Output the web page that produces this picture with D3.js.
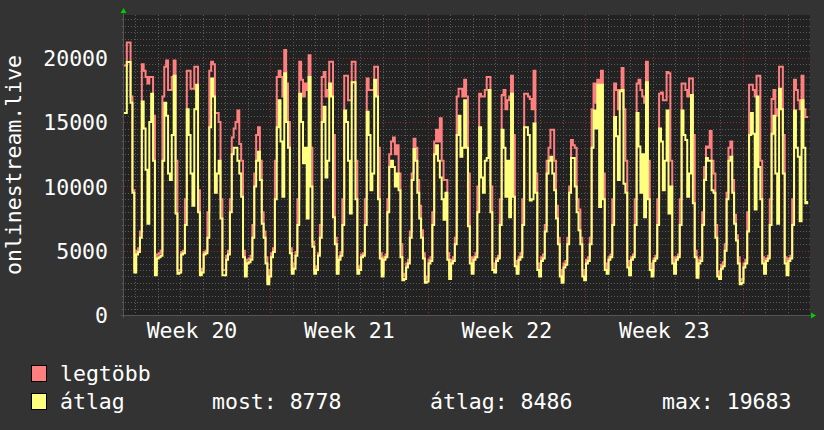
<!DOCTYPE html>
<html>
<head>
<meta charset="utf-8">
<script src="https://cdn.jsdelivr.net/npm/d3@7"></script>
<style>
  body { margin: 0; background: #333333; }
  svg { display: block; }
  text { font-family: "DejaVu Sans Mono", monospace; fill: #ffffff; }
</style>
</head>
<body>
<svg id="chart" width="824" height="430"></svg>
<script>
// one sample every 2 hours, first sample at noon before the first midnight
const stepHours = 2;

// legtöbb (max) per day, hours 0,2,...,22 (first row: 12..22 only)
const legtobbDays = [
  [19400, 19400, 21200, 21200, 17000, 9700],
  [3600, 5000, 5200, 6500, 19500, 19000, 18500, 18000, 18500, 18500, 15500, 3400],
  [4700, 4800, 5000, 17000, 19300, 19800, 17500, 17500, 18500, 19800, 12000, 3500],
  [3500, 4900, 5000, 9000, 19000, 19000, 17600, 17600, 19300, 19300, 9700, 3400],
  [3600, 4900, 5000, 8000, 19000, 19700, 19500, 15700, 15700, 15000, 9000, 3500],
  [3500, 4600, 5000, 9000, 13800, 14500, 15000, 15900, 13300, 12000, 5000, 3400],
  [4300, 4400, 4600, 7000, 11000, 14000, 14600, 12000, 8000, 6500, 4500, 2600],
  [3500, 4800, 5200, 12000, 18500, 19000, 18500, 17000, 20600, 18000, 15000, 5200],
  [3500, 4000, 4900, 9000, 19700, 18300, 17000, 18000, 17500, 20200, 13000, 5700],
  [3500, 3800, 4800, 7000, 18500, 18900, 17000, 17500, 19700, 19700, 14000, 6000],
  [3500, 4500, 4900, 9000, 18600, 18600, 16700, 16700, 19700, 19700, 12000, 3500],
  [3800, 4700, 4800, 9000, 18400, 17500, 17500, 17500, 19300, 19300, 13000, 4800],
  [3300, 4500, 4700, 9000, 12500, 13500, 13800, 12500, 13200, 11000, 5500, 3000],
  [3200, 4000, 4300, 6500, 11000, 13700, 13000, 10500, 8500, 6600, 4800, 2800],
  [3000, 4300, 4500, 8000, 13500, 14400, 13500, 15300, 12000, 10500, 10500, 4800],
  [3100, 4300, 4500, 6000, 17000, 17600, 17600, 17000, 18300, 17000, 11000, 4500],
  [3500, 4500, 4800, 10000, 17200, 17000, 17000, 17500, 18500, 18500, 10000, 4000],
  [3600, 4400, 4600, 9000, 17100, 17500, 16000, 16700, 17000, 18600, 14000, 4200],
  [3500, 4500, 4800, 9000, 17200, 17200, 17000, 16800, 16000, 19000, 11000, 4000],
  [3300, 4500, 4700, 7000, 12000, 13000, 14400, 14400, 12000, 8500, 6000, 3500],
  [2700, 4000, 4200, 6000, 10000, 13600, 13200, 13000, 9000, 8200, 6000, 3500],
  [3000, 4300, 4500, 6000, 16000, 18000, 16500, 18300, 17000, 19000, 11000, 4000],
  [3500, 4500, 4700, 9000, 18000, 17500, 16000, 17500, 19200, 16000, 12000, 4200],
  [3500, 4500, 4700, 9000, 18000, 18300, 17500, 17000, 16500, 19700, 12000, 4000],
  [3400, 4400, 4600, 9000, 17200, 17300, 16700, 16700, 18900, 18800, 12000, 4500],
  [3500, 4500, 4700, 9000, 18000, 18000, 17500, 17000, 18400, 18400, 14000, 5000],
  [3200, 4300, 4500, 8000, 11500, 13100, 13000, 14300, 12000, 11000, 7000, 3400],
  [3100, 3900, 4100, 5500, 9500, 13000, 13500, 10500, 7800, 6200, 4500, 2700],
  [2800, 4000, 4300, 8000, 17900, 17900, 17500, 17000, 18600, 18600, 12000, 4500],
  [3500, 4400, 4600, 9000, 16800, 17500, 15500, 16000, 19300, 19300, 14000, 4500],
  [3500, 4400, 4600, 9000, 18300, 17500, 16700, 16000, 18600, 16000, 15400, 15400]
];

// átlag (average) per day, same layout
const atlagDays = [
  [15700, 15700, 19683, 19683, 16500, 9500],
  [3300, 4700, 4900, 6000, 16600, 14500, 11300, 7100, 15000, 17200, 12000, 3100],
  [4400, 4500, 4600, 12000, 16500, 15500, 11000, 10500, 14000, 18600, 7900, 3200],
  [3300, 4700, 4800, 7000, 16000, 14000, 11000, 8500, 16000, 17900, 8000, 3100],
  [3300, 4700, 4800, 6000, 14600, 18400, 17000, 9500, 11000, 12000, 7500, 3100],
  [3100, 4300, 4700, 8000, 12500, 13000, 13000, 12000, 11000, 9200, 4500, 3000],
  [4000, 4100, 4300, 6000, 10000, 12000, 12700, 10500, 7100, 6000, 4000, 2400],
  [3000, 4500, 4900, 9000, 14600, 16700, 13500, 9200, 18800, 15000, 13000, 4800],
  [3200, 3600, 4600, 7000, 17200, 15000, 11800, 13000, 7500, 18500, 10000, 5300],
  [3200, 3500, 4600, 6000, 15000, 16200, 10700, 12000, 18000, 17000, 7600, 5500],
  [3200, 4300, 4600, 7000, 15900, 15000, 12000, 7900, 18100, 18100, 9000, 3200],
  [3500, 4500, 4600, 7000, 15800, 14000, 9700, 11000, 18300, 17000, 9000, 4400],
  [3000, 4300, 4500, 8000, 11500, 12000, 11500, 10000, 11000, 9700, 4500, 2700],
  [2800, 3700, 4000, 6000, 10500, 12900, 12000, 9500, 7500, 6000, 4400, 2500],
  [2600, 4000, 4200, 7000, 12500, 13200, 12000, 10700, 9000, 7400, 9500, 4300],
  [2800, 4000, 4200, 5500, 14000, 15500, 12300, 13000, 16700, 13000, 6900, 4000],
  [3200, 4300, 4500, 8000, 14600, 10700, 9500, 12000, 12200, 17500, 8000, 3500],
  [3300, 4200, 4400, 7000, 14400, 13000, 9200, 12000, 7600, 17200, 9200, 3800],
  [3200, 4300, 4500, 7000, 14600, 14600, 14000, 8900, 9000, 14900, 9500, 3500],
  [3000, 4200, 4400, 6500, 11000, 12000, 12300, 11000, 9700, 7500, 5500, 3000],
  [2500, 3700, 3900, 5500, 9500, 12200, 12200, 10000, 8000, 6600, 5500, 3000],
  [2700, 4000, 4200, 5500, 13000, 15900, 14500, 17900, 8400, 17900, 9000, 3500],
  [3200, 4300, 4500, 7000, 15400, 13900, 10500, 17400, 17500, 10200, 9500, 3700],
  [3100, 4300, 4500, 7000, 15700, 13100, 9500, 12500, 7600, 18100, 9000, 3500],
  [3000, 4200, 4400, 7000, 14500, 13500, 9700, 12000, 15900, 7900, 10000, 4000],
  [3200, 4300, 4500, 7000, 15900, 14000, 13600, 9200, 11000, 17100, 8700, 4500],
  [2900, 4000, 4200, 7000, 10500, 12200, 12000, 12000, 9700, 9500, 6000, 3000],
  [2800, 3600, 3800, 5000, 9000, 12000, 12300, 9500, 7100, 5800, 4000, 2400],
  [2500, 3700, 4000, 6500, 14000, 15700, 14100, 8200, 17000, 11500, 9000, 4000],
  [3200, 4200, 4400, 7000, 14100, 15500, 11000, 7100, 17600, 16000, 11000, 4000],
  [3100, 4200, 4400, 7000, 15900, 13000, 12300, 7300, 16700, 13000, 8700, 8778]
];

const legtobb = legtobbDays.flat();
const atlag = atlagDays.flat();

// hours from the left edge
const totalHours = 732;
const dayLines = d3.range(12, totalHours, 24);
const weekLines = [156, 324, 492, 660];
const weekMid = [72, 240, 408, 576];
const weekLabels = ["Week 20", "Week 21", "Week 22", "Week 23"];

const yTicks = [0, 5000, 10000, 15000, 20000];
const yMinor = d3.range(500, 23500, 500);

const seriesNames = ["legtöbb", "átlag"];
const seriesColors = ["#ff7f7f", "#ffff7f"];
const statLabels = ["most: 8778", "átlag: 8486", "max: 19683"];

const svg = d3.select("#chart");
const plotLeft = 124, plotRight = 810, plotTop = 15, plotBottom = 315;

const x = d3.scaleLinear().domain([0, totalHours]).range([plotLeft, plotRight]);
const y = d3.scaleLinear().domain([0, 23330]).range([plotBottom, plotTop]);

svg.append("rect").attr("width", 824).attr("height", 430).attr("fill", "#333333");
svg.append("rect")
    .attr("x", plotLeft).attr("y", plotTop)
    .attr("width", plotRight - plotLeft).attr("height", plotBottom - plotTop)
    .attr("fill", "#222222");

// minor grid
const grid = svg.append("g");
grid.selectAll(".hmin")
    .data(yMinor.filter(v => v % 5000 !== 0))
    .enter().append("line")
    .attr("x1", plotLeft - 2).attr("x2", plotRight)
    .attr("y1", d => Math.round(y(d)) + 0.5).attr("y2", d => Math.round(y(d)) + 0.5)
    .attr("stroke", "#5a5a5a").attr("stroke-dasharray", "1,2");
grid.selectAll(".vmin")
    .data(dayLines.filter(d => !weekLines.includes(d)))
    .enter().append("line")
    .attr("x1", d => Math.round(x(d)) + 0.5).attr("x2", d => Math.round(x(d)) + 0.5)
    .attr("y1", plotTop).attr("y2", plotBottom + 2)
    .attr("stroke", "#5a5a5a").attr("stroke-dasharray", "1,2");

// major grid
grid.selectAll(".hmaj")
    .data(yTicks.filter(v => v > 0))
    .enter().append("line")
    .attr("x1", plotLeft - 3).attr("x2", plotRight)
    .attr("y1", d => Math.round(y(d)) + 0.5).attr("y2", d => Math.round(y(d)) + 0.5)
    .attr("stroke", "#8a3030").attr("stroke-dasharray", "1,2");
grid.selectAll(".vmaj")
    .data(weekLines)
    .enter().append("line")
    .attr("x1", d => Math.round(x(d)) + 0.5).attr("x2", d => Math.round(x(d)) + 0.5)
    .attr("y1", plotTop).attr("y2", plotBottom + 3)
    .attr("stroke", "#8a3030").attr("stroke-dasharray", "1,2");

// data lines
const line = d3.line()
    .x((d, i) => x(i * stepHours))
    .y(d => y(d))
    .curve(d3.curveStep);

[legtobb, atlag].forEach((values, k) => {
    svg.append("path")
        .datum(values)
        .attr("fill", "none")
        .attr("stroke", seriesColors[k])
        .attr("stroke-width", 2)
        .attr("d", line);
});

// axes
svg.append("line")
    .attr("x1", plotLeft - 3).attr("x2", plotRight + 1)
    .attr("y1", plotBottom + 0.5).attr("y2", plotBottom + 0.5)
    .attr("stroke", "#555555");
svg.append("line")
    .attr("x1", plotLeft - 0.5).attr("x2", plotLeft - 0.5)
    .attr("y1", plotTop - 2).attr("y2", plotBottom + 3)
    .attr("stroke", "#555555");

svg.append("path")
    .attr("d", `M${plotLeft - 3.5},13 L${plotLeft - 0.5},8 L${plotLeft + 2.5},13 Z`)
    .attr("fill", "#00cc00");
svg.append("path")
    .attr("d", `M811,${plotBottom - 2.5} L816,${plotBottom + 0.5} L811,${plotBottom + 3.5} Z`)
    .attr("fill", "#00cc00");

const yAxis = svg.append("g")
    .attr("transform", `translate(${plotLeft},0)`)
    .call(d3.axisLeft(y).tickValues(yTicks).tickFormat(d3.format("d")).tickSize(0).tickPadding(16));
yAxis.select(".domain").remove();
yAxis.selectAll("text")
    .attr("font-size", "21.5px")
    .attr("font-family", "DejaVu Sans Mono")
    .attr("fill", "#fff")
    .attr("dy", "0.36em");

const xAxis = svg.append("g")
    .attr("transform", `translate(0,${plotBottom})`)
    .call(d3.axisBottom(x).tickValues(weekMid).tickFormat((d, i) => weekLabels[i]).tickSize(0));
xAxis.select(".domain").remove();
xAxis.selectAll("text")
    .attr("font-size", "21.5px")
    .attr("font-family", "DejaVu Sans Mono")
    .attr("fill", "#fff")
    .attr("y", 23)
    .attr("dy", 0);

svg.append("text")
    .attr("transform", `translate(21,${(plotTop + plotBottom) / 2}) rotate(-90)`)
    .attr("text-anchor", "middle")
    .attr("font-size", "21.5px")
    .text("onlinestream.live");

// legend
const legend = svg.append("g");
seriesNames.forEach((name, k) => {
    const yy = 365 + k * 28;
    legend.append("rect")
        .attr("x", 31.5).attr("y", yy + 0.5)
        .attr("width", 15).attr("height", 16)
        .attr("fill", seriesColors[k])
        .attr("stroke", "#000");
    legend.append("text")
        .attr("x", 60).attr("y", yy + 16)
        .attr("font-size", "21.5px")
        .text(name);
});
[212, 430, 662].forEach((xx, i) => {
    legend.append("text")
        .attr("x", xx).attr("y", 365 + 28 + 16)
        .attr("font-size", "21.5px")
        .text(statLabels[i]);
});
</script>
</body>
</html>
